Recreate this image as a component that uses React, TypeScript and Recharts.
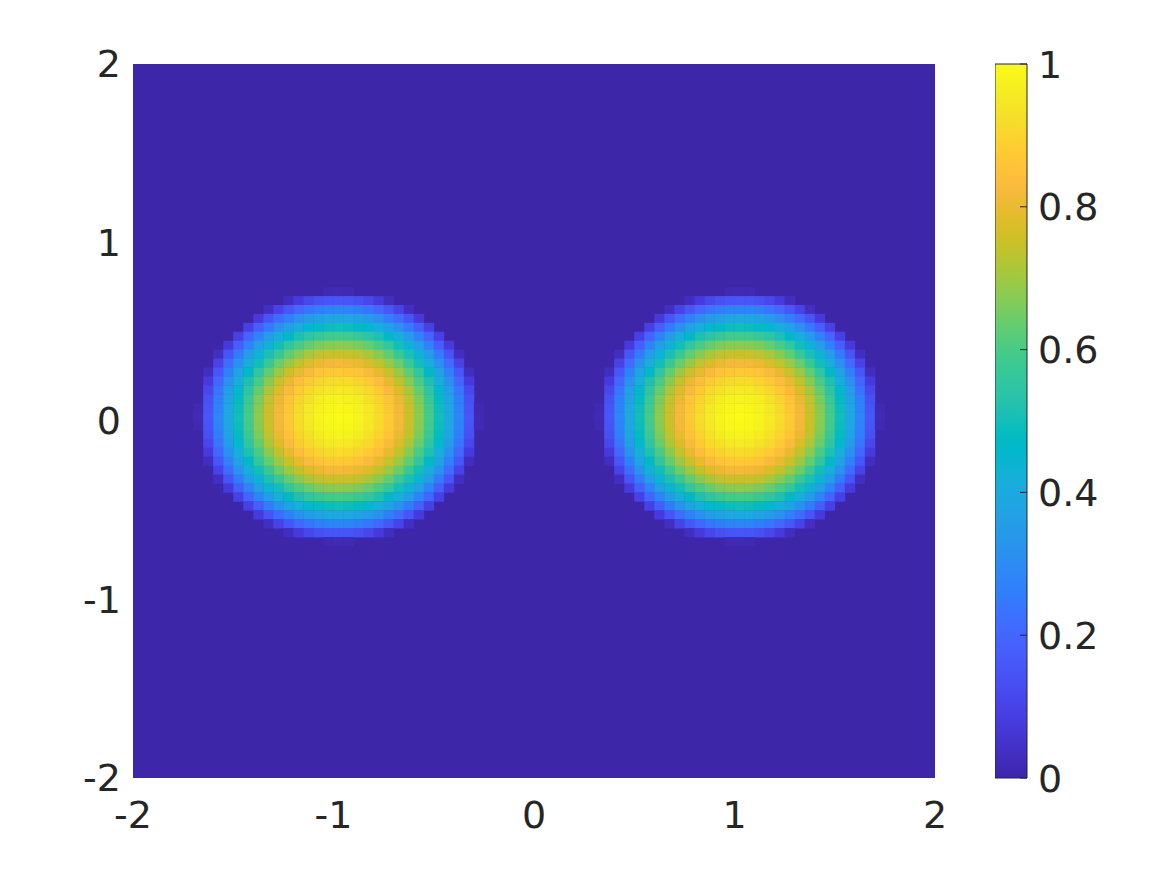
import { ScatterChart, Scatter, XAxis, YAxis, ReferenceArea, ComposedChart } from 'recharts';

const axisTicks = [-2, -1, 0, 1, 2];
const colorbarTicks = [0, 0.2, 0.4, 0.6, 0.8, 1];
const gridStep = 0.05;
const blobCentersX = [-1, 1];
const blobCenterY = 0;

// one blob, values in percent; rows go from y = +0.7 (top) to y = -0.7, columns from x = -0.7 to +0.7
const blobPercent: number[][] = [
  [0, 0, 0, 0, 0, 0, 0, 0, 0, 0, 0, 0, 0, 1.5, 2, 1.5, 0, 0, 0, 0, 0, 0, 0, 0, 0, 0, 0, 0, 0],
  [0, 0, 0, 0, 0, 0, 0, 0, 0, 3, 7.5, 11, 13.5, 15, 15.5, 15, 13.5, 11, 7.5, 3, 0, 0, 0, 0, 0, 0, 0, 0, 0],
  [0, 0, 0, 0, 0, 0, 0, 3.5, 10, 15.5, 20, 23.5, 26, 27.5, 28, 27.5, 26, 23.5, 20, 15.5, 10, 3.5, 0, 0, 0, 0, 0, 0, 0],
  [0, 0, 0, 0, 0, 0, 7.5, 15, 21.5, 27, 31.5, 35, 37.5, 39, 39.5, 39, 37.5, 35, 31.5, 27, 21.5, 15, 7.5, 0, 0, 0, 0, 0, 0],
  [0, 0, 0, 0, 0, 9.5, 18, 25.5, 32, 37.5, 42, 45.5, 48, 49.5, 50, 49.5, 48, 45.5, 42, 37.5, 32, 25.5, 18, 9.5, 0, 0, 0, 0, 0],
  [0, 0, 0, 0, 9.5, 19, 27.5, 35, 41.5, 47, 51.5, 55, 57.5, 59, 59.5, 59, 57.5, 55, 51.5, 47, 41.5, 35, 27.5, 19, 9.5, 0, 0, 0, 0],
  [0, 0, 0, 7.5, 18, 27.5, 36, 43.5, 50, 55.5, 60, 63.5, 66, 67.5, 68, 67.5, 66, 63.5, 60, 55.5, 50, 43.5, 36, 27.5, 18, 7.5, 0, 0, 0],
  [0, 0, 3.5, 15, 25.5, 35, 43.5, 51, 57.5, 63, 67.5, 71, 73.5, 75, 75.5, 75, 73.5, 71, 67.5, 63, 57.5, 51, 43.5, 35, 25.5, 15, 3.5, 0, 0],
  [0, 0, 10, 21.5, 32, 41.5, 50, 57.5, 64, 69.5, 74, 77.5, 80, 81.5, 82, 81.5, 80, 77.5, 74, 69.5, 64, 57.5, 50, 41.5, 32, 21.5, 10, 0, 0],
  [0, 3, 15.5, 27, 37.5, 47, 55.5, 63, 69.5, 75, 79.5, 83, 85.5, 87, 87.5, 87, 85.5, 83, 79.5, 75, 69.5, 63, 55.5, 47, 37.5, 27, 15.5, 3, 0],
  [0, 7.5, 20, 31.5, 42, 51.5, 60, 67.5, 74, 79.5, 84, 87.5, 90, 91.5, 92, 91.5, 90, 87.5, 84, 79.5, 74, 67.5, 60, 51.5, 42, 31.5, 20, 7.5, 0],
  [0, 11, 23.5, 35, 45.5, 55, 63.5, 71, 77.5, 83, 87.5, 91, 93.5, 95, 95.5, 95, 93.5, 91, 87.5, 83, 77.5, 71, 63.5, 55, 45.5, 35, 23.5, 11, 0],
  [0, 13.5, 26, 37.5, 48, 57.5, 66, 73.5, 80, 85.5, 90, 93.5, 96, 97.5, 98, 97.5, 96, 93.5, 90, 85.5, 80, 73.5, 66, 57.5, 48, 37.5, 26, 13.5, 0],
  [1.5, 15, 27.5, 39, 49.5, 59, 67.5, 75, 81.5, 87, 91.5, 95, 97.5, 99, 99.5, 99, 97.5, 95, 91.5, 87, 81.5, 75, 67.5, 59, 49.5, 39, 27.5, 15, 1.5],
  [2, 15.5, 28, 39.5, 50, 59.5, 68, 75.5, 82, 87.5, 92, 95.5, 98, 99.5, 100, 99.5, 98, 95.5, 92, 87.5, 82, 75.5, 68, 59.5, 50, 39.5, 28, 15.5, 2],
  [1.5, 15, 27.5, 39, 49.5, 59, 67.5, 75, 81.5, 87, 91.5, 95, 97.5, 99, 99.5, 99, 97.5, 95, 91.5, 87, 81.5, 75, 67.5, 59, 49.5, 39, 27.5, 15, 1.5],
  [0, 13.5, 26, 37.5, 48, 57.5, 66, 73.5, 80, 85.5, 90, 93.5, 96, 97.5, 98, 97.5, 96, 93.5, 90, 85.5, 80, 73.5, 66, 57.5, 48, 37.5, 26, 13.5, 0],
  [0, 11, 23.5, 35, 45.5, 55, 63.5, 71, 77.5, 83, 87.5, 91, 93.5, 95, 95.5, 95, 93.5, 91, 87.5, 83, 77.5, 71, 63.5, 55, 45.5, 35, 23.5, 11, 0],
  [0, 7.5, 20, 31.5, 42, 51.5, 60, 67.5, 74, 79.5, 84, 87.5, 90, 91.5, 92, 91.5, 90, 87.5, 84, 79.5, 74, 67.5, 60, 51.5, 42, 31.5, 20, 7.5, 0],
  [0, 3, 15.5, 27, 37.5, 47, 55.5, 63, 69.5, 75, 79.5, 83, 85.5, 87, 87.5, 87, 85.5, 83, 79.5, 75, 69.5, 63, 55.5, 47, 37.5, 27, 15.5, 3, 0],
  [0, 0, 10, 21.5, 32, 41.5, 50, 57.5, 64, 69.5, 74, 77.5, 80, 81.5, 82, 81.5, 80, 77.5, 74, 69.5, 64, 57.5, 50, 41.5, 32, 21.5, 10, 0, 0],
  [0, 0, 3.5, 15, 25.5, 35, 43.5, 51, 57.5, 63, 67.5, 71, 73.5, 75, 75.5, 75, 73.5, 71, 67.5, 63, 57.5, 51, 43.5, 35, 25.5, 15, 3.5, 0, 0],
  [0, 0, 0, 7.5, 18, 27.5, 36, 43.5, 50, 55.5, 60, 63.5, 66, 67.5, 68, 67.5, 66, 63.5, 60, 55.5, 50, 43.5, 36, 27.5, 18, 7.5, 0, 0, 0],
  [0, 0, 0, 0, 9.5, 19, 27.5, 35, 41.5, 47, 51.5, 55, 57.5, 59, 59.5, 59, 57.5, 55, 51.5, 47, 41.5, 35, 27.5, 19, 9.5, 0, 0, 0, 0],
  [0, 0, 0, 0, 0, 9.5, 18, 25.5, 32, 37.5, 42, 45.5, 48, 49.5, 50, 49.5, 48, 45.5, 42, 37.5, 32, 25.5, 18, 9.5, 0, 0, 0, 0, 0],
  [0, 0, 0, 0, 0, 0, 7.5, 15, 21.5, 27, 31.5, 35, 37.5, 39, 39.5, 39, 37.5, 35, 31.5, 27, 21.5, 15, 7.5, 0, 0, 0, 0, 0, 0],
  [0, 0, 0, 0, 0, 0, 0, 3.5, 10, 15.5, 20, 23.5, 26, 27.5, 28, 27.5, 26, 23.5, 20, 15.5, 10, 3.5, 0, 0, 0, 0, 0, 0, 0],
  [0, 0, 0, 0, 0, 0, 0, 0, 0, 3, 7.5, 11, 13.5, 15, 15.5, 15, 13.5, 11, 7.5, 3, 0, 0, 0, 0, 0, 0, 0, 0, 0],
  [0, 0, 0, 0, 0, 0, 0, 0, 0, 0, 0, 0, 0, 1.5, 2, 1.5, 0, 0, 0, 0, 0, 0, 0, 0, 0, 0, 0, 0, 0],
];

// MATLAB parula colormap (64 entries)
const PARULA = [
  [0.2422, 0.1504, 0.6603], [0.2504, 0.165, 0.7076], [0.2578, 0.1818, 0.7511], [0.2647, 0.1978, 0.7952],
  [0.2706, 0.2147, 0.8364], [0.2751, 0.2342, 0.871], [0.2783, 0.2559, 0.8991], [0.2803, 0.2782, 0.9221],
  [0.2813, 0.3006, 0.9414], [0.281, 0.3228, 0.9579], [0.2795, 0.3447, 0.9717], [0.276, 0.3667, 0.9829],
  [0.2699, 0.3892, 0.9906], [0.2602, 0.4123, 0.9952], [0.244, 0.4358, 0.9988], [0.2206, 0.4603, 0.9973],
  [0.1963, 0.4847, 0.9892], [0.1834, 0.5074, 0.9798], [0.1786, 0.5289, 0.9682], [0.1764, 0.5499, 0.952],
  [0.1687, 0.5703, 0.9359], [0.154, 0.5902, 0.9218], [0.146, 0.6091, 0.9079], [0.138, 0.6276, 0.8973],
  [0.1248, 0.6459, 0.8883], [0.1113, 0.6635, 0.8763], [0.0952, 0.6798, 0.8598], [0.0689, 0.6948, 0.8394],
  [0.0297, 0.7082, 0.8163], [0.0036, 0.7203, 0.7917], [0.0067, 0.7312, 0.766], [0.0433, 0.7411, 0.7394],
  [0.0964, 0.75, 0.712], [0.1408, 0.7584, 0.6842], [0.1717, 0.767, 0.6554], [0.1938, 0.7758, 0.6251],
  [0.2161, 0.7843, 0.5923], [0.247, 0.7918, 0.5567], [0.2906, 0.7973, 0.5188], [0.3406, 0.8008, 0.4789],
  [0.3909, 0.8029, 0.4354], [0.4456, 0.8024, 0.3909], [0.5044, 0.7993, 0.348], [0.5616, 0.7942, 0.3045],
  [0.6174, 0.7876, 0.2612], [0.672, 0.7793, 0.2227], [0.7242, 0.7698, 0.191], [0.7738, 0.7598, 0.1646],
  [0.8203, 0.7498, 0.1535], [0.8634, 0.7406, 0.1596], [0.9035, 0.733, 0.1774], [0.9393, 0.7288, 0.21],
  [0.9728, 0.7298, 0.2394], [0.9956, 0.7434, 0.2371], [0.997, 0.7659, 0.2199], [0.9952, 0.7893, 0.2028],
  [0.9892, 0.8136, 0.1885], [0.9786, 0.8386, 0.1766], [0.9676, 0.8639, 0.1643], [0.961, 0.889, 0.1537],
  [0.9597, 0.9135, 0.1423], [0.9628, 0.9373, 0.1265], [0.9691, 0.9606, 0.1064], [0.9769, 0.9839, 0.0805],
];

function parula(v: number) {
  const t = Math.min(1, Math.max(0, v)) * (PARULA.length - 1);
  const i = Math.floor(t);
  const f = t - i;
  const a = PARULA[i];
  const b = PARULA[Math.min(PARULA.length - 1, i + 1)];
  const c = [0, 1, 2].map((k) => Math.round((a[k] + (b[k] - a[k]) * f) * 255));
  return `rgb(${c[0]},${c[1]},${c[2]})`;
}

const half = (blobPercent.length - 1) / 2;
const cells = blobCentersX.flatMap((cx) =>
  blobPercent.flatMap((row, i) =>
    row.map((p, j) => ({ x: cx + (j - half) * gridStep, y: blobCenterY + (half - i) * gridStep, v: p / 100 }))
  )
).filter((c) => c.v > 0);

// the colorbar spans the value range of the colour scale
const colorbarData = colorbarTicks.map((v) => ({ x: 0.5, v }));

const W = 1167;
const H = 875;
const plotLeft = 133;
const plotRight = 935;
const plotTop = 64;
const plotBottom = 778;
const barLeft = 995;
const barRight = 1027;
const cellW = ((plotRight - plotLeft) / 4) * gridStep;
const cellH = ((plotBottom - plotTop) / 4) * gridStep;
const textColor = '#262626';
const font = 'DejaVu Sans';
const fontSize = 38;

const CellShape = (props: any) => {
  const { cx, cy, payload } = props;
  return (
    <rect x={cx} y={cy - cellH} width={cellW + 0.4} height={cellH + 0.4} fill={parula(payload.v)} stroke="none" />
  );
};

const ColorbarTick = (props: any) => {
  const { x, y, payload } = props;
  return (
    <g>
      <line x1={x - 7} y1={y} x2={x} y2={y} stroke={textColor} strokeWidth={1} />
      <text x={x + 11} y={y} dy="0.36em" textAnchor="start" fill={textColor} fontFamily={font} fontSize={fontSize}>
        {String(payload.value)}
      </text>
    </g>
  );
};

export default function App() {
  const tickStyle = { fill: textColor, fontFamily: font, fontSize };
  return (
    <div style={{ position: 'absolute', left: 0, top: 0, width: W, height: H, background: '#fff' }}>
      <div style={{ position: 'absolute', left: 0, top: 0 }}>
        <ScatterChart width={W} height={H} margin={{ top: plotTop, right: W - plotRight, bottom: H - plotBottom - 60, left: 0 }}>
          <XAxis
            type="number"
            dataKey="x"
            domain={[-2, 2]}
            ticks={axisTicks}
            height={60}
            axisLine={false}
            tickLine={false}
            tickSize={0}
            tickMargin={23}
            tick={tickStyle}
            interval={0}
          />
          <YAxis
            type="number"
            dataKey="y"
            domain={[-2, 2]}
            ticks={axisTicks}
            width={plotLeft}
            axisLine={false}
            tickLine={false}
            tickSize={0}
            tickMargin={12}
            tick={tickStyle}
            interval={0}
          />
          <ReferenceArea x1={-2} x2={2} y1={-2} y2={2} fill={parula(0)} fillOpacity={1} stroke="none" />
          <Scatter data={cells} shape={CellShape} isAnimationActive={false} />
        </ScatterChart>
      </div>
      <div style={{ position: 'absolute', left: barLeft, top: 0 }}>
        <ScatterChart
          width={W - barLeft}
          height={H}
          margin={{ top: plotTop, right: 0, bottom: H - plotBottom, left: 0 }}
        >
          <defs>
            <linearGradient id="parulaGrad" x1="0" y1="1" x2="0" y2="0">
              {PARULA.map((_, i) => (
                <stop key={i} offset={i / (PARULA.length - 1)} stopColor={parula(i / (PARULA.length - 1))} />
              ))}
            </linearGradient>
          </defs>
          <XAxis type="number" dataKey="x" domain={[0, 1]} hide />
          <YAxis
            type="number"
            dataKey="v"
            orientation="right"
            domain={[0, 1]}
            ticks={colorbarTicks}
            width={W - barRight}
            axisLine={false}
            tickLine={false}
            tickSize={0}
            tickMargin={0}
            tick={<ColorbarTick />}
            interval={0}
          />
          <ReferenceArea x1={0} x2={1} y1={0} y2={1} fill="url(#parulaGrad)" fillOpacity={1} stroke={textColor} strokeWidth={1} />
          <Scatter data={colorbarData} shape={() => <g />} isAnimationActive={false} />
        </ScatterChart>
      </div>
    </div>
  );
}
